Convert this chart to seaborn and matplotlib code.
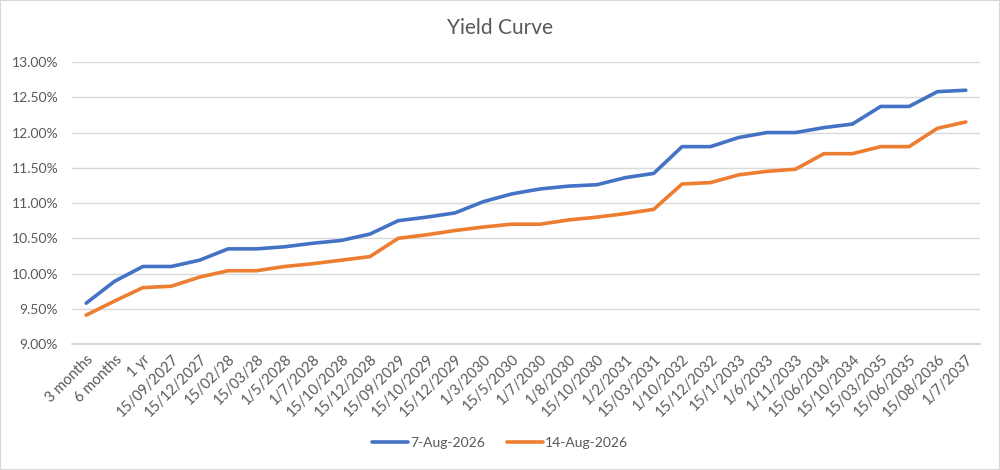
import matplotlib
matplotlib.use("Agg")
import matplotlib.pyplot as plt
import matplotlib.ticker as mticker
import seaborn as sns
import pandas as pd

# tenor / date labels on the category axis
tenors = [
    "3 months", "6 months", "1 yr", "15/09/2027", "15/12/2027", "15/02/28",
    "15/03/28", "1/5/2028", "1/7/2028", "15/10/2028", "15/12/2028",
    "15/09/2029", "15/10/2029", "15/12/2029", "1/3/2030", "15/5/2030",
    "1/7/2030", "1/8/2030", "15/10/2030", "1/2/2031", "15/03/2031",
    "1/10/2032", "15/12/2032", "15/1/2033", "1/6/2033", "1/11/2033",
    "15/06/2034", "15/10/2034", "15/03/2035", "15/06/2035", "15/08/2036",
    "1/7/2037",
]

# yields in %
curve_7aug = [
    9.58, 9.89, 10.10, 10.10, 10.19, 10.35, 10.35, 10.38, 10.43, 10.47,
    10.56, 10.75, 10.80, 10.86, 11.02, 11.13, 11.20, 11.24, 11.26, 11.36,
    11.42, 11.80, 11.80, 11.93, 12.00, 12.00, 12.07, 12.12, 12.37, 12.37,
    12.58, 12.60,
]
curve_14aug = [
    9.41, 9.61, 9.80, 9.82, 9.95, 10.04, 10.04, 10.10, 10.14, 10.19,
    10.24, 10.50, 10.55, 10.61, 10.66, 10.70, 10.70, 10.76, 10.80, 10.85,
    10.91, 11.27, 11.29, 11.40, 11.45, 11.48, 11.70, 11.70, 11.80, 11.80,
    12.06, 12.15,
]
series_names = ["7-Aug-2026", "14-Aug-2026"]
colors = ["#4472C4", "#ED7D31"]

df = pd.DataFrame({
    "pos": list(range(len(tenors))) * 2,
    "yield": curve_7aug + curve_14aug,
    "curve": [series_names[0]] * len(tenors) + [series_names[1]] * len(tenors),
})

sns.set_style("white")
plt.rcParams["font.family"] = ["Lato", "DejaVu Sans"]
text_col = "#595959"

fig = plt.figure(figsize=(10, 4.7), dpi=100)
ax = fig.add_axes([0.072, 0.268, 0.908, 0.6])

sns.lineplot(data=df, x="pos", y="yield", hue="curve", palette=colors,
             linewidth=2.6, ax=ax, legend=False, solid_capstyle="round")

ax.set_xlim(-0.5, len(tenors) - 0.5)
ax.set_ylim(9.0, 13.0)
ax.yaxis.set_major_locator(mticker.MultipleLocator(0.5))
ax.yaxis.set_major_formatter(mticker.FuncFormatter(lambda v, p: f"{v:.2f}%"))
ax.set_xticks(range(len(tenors)))
ax.set_xticklabels(tenors, rotation=45, ha="right", rotation_mode="anchor")
ax.tick_params(axis="x", length=0, pad=6, labelsize=10.5, colors=text_col)
ax.tick_params(axis="y", length=0, pad=10, labelsize=10, colors=text_col)
ax.grid(axis="y", color="#d9d9d9", linewidth=1)
ax.grid(axis="x", visible=False)
for s in ["left", "right", "top"]:
    ax.spines[s].set_visible(False)
ax.spines["bottom"].set_color("#d0d0d0")
ax.spines["bottom"].set_linewidth(1.2)
ax.set_xlabel("")
ax.set_ylabel("")

fig.text(0.5, 0.94, "Yield Curve", ha="center", va="center",
         fontsize=15, color=text_col)

handles = [plt.Line2D([], [], color=c, linewidth=2.6) for c in colors]
fig.legend(handles, series_names, loc="center", bbox_to_anchor=(0.5, 0.057),
           ncol=2, frameon=False, handlelength=2.6, handletextpad=0.15,
           columnspacing=1.6, fontsize=10, labelcolor=text_col)

fig.patches.append(plt.Rectangle((0, 0), 1, 1, transform=fig.transFigure,
                                 fill=False, edgecolor="#d9d9d9", linewidth=1.5))

fig.savefig("out.png", dpi=100)
